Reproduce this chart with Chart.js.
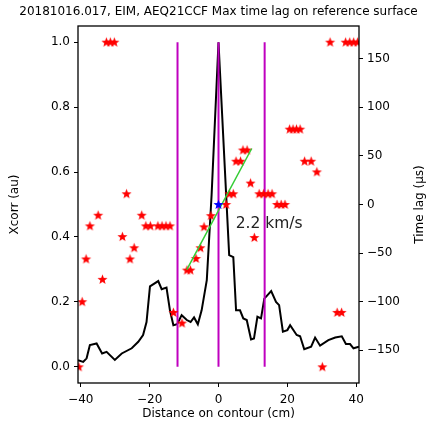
<!DOCTYPE html>
<html>
<head>
<meta charset="utf-8">
<script src="https://cdn.jsdelivr.net/npm/chart.js@4.4.0/dist/chart.umd.min.js"></script>
<style>
  html, body { margin: 0; padding: 0; background: #fff; }
</style>
</head>
<body>
<canvas id="lagChart" width="427" height="425"></canvas>
<script>
const titleText = "20181016.017, EIM, AEQ21CCF Max time lag on reference surface";

// cross-correlation curve (left axis)
const xcorrDist = [-40.8, -39.3, -38.3, -37.35, -35.4, -33.8, -32.5, -30.1, -28.1, -25.2, -23.3, -21.9, -20.9, -19.9,
  -17.5, -16.5, -15.1, -14.1, -13.1, -12.0, -10.7, -9.2, -8.1, -7.1, -6.0, -4.9, -3.4, -2.0, 0, 3.1, 4.3, 5.1, 6.25,
  7.2, 8.2, 9.45, 10.3, 11.3, 12.35, 13.3, 15.3, 16.7, 17.6, 18.7, 20.0, 20.8, 22.7, 23.7, 24.9, 26.9, 28.05, 29.5,
  31.9, 33.9, 35.8, 37.0, 38.2, 39.2, 40.8];
const xcorrVal = [0.020, 0.015, 0.026, 0.067, 0.072, 0.041, 0.046, 0.021, 0.041, 0.057, 0.077, 0.098, 0.138, 0.248,
  0.264, 0.239, 0.244, 0.174, 0.128, 0.131, 0.159, 0.144, 0.138, 0.152, 0.131, 0.174, 0.267, 0.53, 1.0, 0.344, 0.338,
  0.174, 0.174, 0.149, 0.144, 0.084, 0.087, 0.154, 0.149, 0.210, 0.233, 0.200, 0.190, 0.108, 0.113, 0.128, 0.098,
  0.094, 0.054, 0.062, 0.090, 0.065, 0.082, 0.090, 0.094, 0.070, 0.070, 0.057, 0.062];

// time lag of max xcorr (right axis, us)
const lagDist = [-40.55, -39.6, -38.45, -37.35, -34.95, -33.7, -32.55, -31.4, -30.25, -27.9, -26.7, -25.7, -24.5,
  -22.3, -21.1, -19.8, -17.6, -16.4, -15.25, -14.1, -13.1, -10.6, -9.15, -8.15, -6.55, -5.25, -4.2, -2.2, 2.2, 3.15,
  4.3, 5.1, 6.4, 7.1, 8.3, 9.3, 10.4, 11.8, 13.1, 14.4, 15.55, 17.0, 18.2, 19.3, 20.65, 21.65, 22.65, 23.7, 25.0,
  26.9, 28.55, 30.15, 32.4, 34.45, 35.75, 36.9, 38.1, 39.25, 40.4];
const lagVal = [-167, -100, -56, -22, -11, -77, 167, 167, 167, -33, 11, -56, -44.5, -11, -22, -22, -22, -22, -22,
  -22, -111, -122, -67.5, -67.5, -55.5, -44.5, -23, -11.5, 0, 11, 11, 44.5, 44.5, 56, 56, 22, -34, 11, 11, 11, 11,
  0, 0, 0, 77.5, 77.5, 77.5, 77.5, 44.5, 44.5, 33.5, -167, 167, -111, -111, 167, 167, 167, 167];

const markerLines = [-11.9, 0, 13.4];
const fitDist = [-9.2, 9.65];
const fitLag = [-67, 57.6];
const refDist = 0;
const refLag = 0;
const speedLabel = "2.2 km/s";
const speedPos = [5.0, 0.427];

const xTicks = [-40, -20, 0, 20, 40];
const corrTicks = [0, 0.2, 0.4, 0.6, 0.8, 1.0];
const lagTicks = [-150, -100, -50, 0, 50, 100, 150];

const FONT = "DejaVu Sans";
const minus = v => (v < 0 ? "\u2212" + Math.abs(v) : String(v));

function makeStar(color, r) {
  const c = document.createElement("canvas");
  const s = Math.ceil(r * 2 + 2);
  c.width = s; c.height = s;
  const g = c.getContext("2d");
  g.fillStyle = color;
  g.beginPath();
  for (let i = 0; i < 10; i++) {
    const a = -Math.PI / 2 + i * Math.PI / 5;
    const rad = i % 2 ? r * 0.42 : r;
    const px = s / 2 + rad * Math.cos(a), py = s / 2 + 0.3 + rad * Math.sin(a);
    i ? g.lineTo(px, py) : g.moveTo(px, py);
  }
  g.closePath();
  g.fill();
  return c;
}
const redStar = makeStar("#ff0000", 5.3);
const blueStar = makeStar("#0000ff", 5.3);

const datasets = [
  {
    data: xcorrDist.map((d, i) => ({ x: d, y: xcorrVal[i] })),
    yAxisID: "y", showLine: true, borderColor: "#000", borderWidth: 2, pointRadius: 0, order: 6
  },
  ...markerLines.map(d => ({
    data: [{ x: d, y: 0 }, { x: d, y: 1 }],
    yAxisID: "y", showLine: true, borderColor: "#bf00bf", borderWidth: 2, pointRadius: 0, order: 5
  })),
  {
    data: lagDist.map((d, i) => ({ x: d, y: lagVal[i] })),
    yAxisID: "y2", showLine: false, pointStyle: redStar, pointRadius: 5, order: 3
  },
  {
    data: fitDist.map((d, i) => ({ x: d, y: fitLag[i] })),
    yAxisID: "y2", showLine: true, borderColor: "#33cc33", borderWidth: 1.5, pointRadius: 0, order: 2
  },
  {
    data: [{ x: refDist, y: refLag }],
    yAxisID: "y2", showLine: false, pointStyle: blueStar, pointRadius: 5, order: 1
  }
];

const tickGrid = { display: true, drawOnChartArea: false, drawTicks: true, tickLength: 4, tickWidth: 1, tickColor: "#000" };
const tickFont = { family: FONT, size: 12 };

const decorations = {
  id: "decorations",
  afterDatasetsDraw(chart) {
    const { ctx, chartArea: a, scales } = chart;
    ctx.save();
    ctx.fillStyle = "#222";
    ctx.font = "15.5px '" + FONT + "'";
    ctx.textAlign = "left";
    ctx.textBaseline = "alphabetic";
    ctx.fillText(speedLabel, scales.x.getPixelForValue(speedPos[0]), scales.y.getPixelForValue(speedPos[1]));
    ctx.strokeStyle = "#000";
    ctx.lineWidth = 1.3;
    ctx.strokeRect(a.left, a.top, a.right - a.left, a.bottom - a.top);
    ctx.restore();
  },
  afterDraw(chart) {
    const { ctx, chartArea: a } = chart;
    const cx = (a.left + a.right) / 2, cy = (a.top + a.bottom) / 2;
    ctx.save();
    ctx.fillStyle = "#000";
    ctx.font = "12px '" + FONT + "'";
    ctx.textAlign = "center";
    ctx.textBaseline = "middle";
    ctx.fillText(titleText, cx, 12);
    ctx.fillText("Distance on contour (cm)", cx, 414);
    ctx.translate(15, cy);
    ctx.rotate(-Math.PI / 2);
    ctx.fillText("Xcorr (au)", 0, 0);
    ctx.restore();
    ctx.save();
    ctx.fillStyle = "#000";
    ctx.font = "12px '" + FONT + "'";
    ctx.textAlign = "center";
    ctx.textBaseline = "middle";
    ctx.translate(420, cy);
    ctx.rotate(-Math.PI / 2);
    ctx.fillText("Time lag (\u03bcs)", 0, 0);
    ctx.restore();
  }
};

new Chart(document.getElementById("lagChart"), {
  type: "scatter",
  data: { datasets },
  options: {
    responsive: false,
    animation: false,
    devicePixelRatio: 1,
    layout: { padding: { top: 26, left: 0, right: 0, bottom: 0 } },
    plugins: { legend: { display: false }, tooltip: { enabled: false } },
    scales: {
      x: {
        type: "linear", position: "bottom", min: -40.8, max: 40.8,
        afterBuildTicks: s => { s.ticks = xTicks.map(v => ({ value: v })); },
        afterFit: s => { s.height = 42; },
        grid: tickGrid, border: { display: false },
        ticks: { font: tickFont, color: "#000", padding: 6, maxRotation: 0, callback: v => minus(v) }
      },
      y: {
        type: "linear", position: "left", min: -0.05, max: 1.05,
        afterBuildTicks: s => { s.ticks = corrTicks.map(v => ({ value: v })); },
        afterFit: s => { s.width = 78; },
        grid: tickGrid, border: { display: false },
        ticks: { font: tickFont, color: "#000", padding: 4, callback: v => v.toFixed(1) }
      },
      y2: {
        type: "linear", position: "right", min: -183.6, max: 183.6,
        afterBuildTicks: s => { s.ticks = lagTicks.map(v => ({ value: v })); },
        afterFit: s => { s.width = 68; },
        grid: tickGrid, border: { display: false },
        ticks: { font: tickFont, color: "#000", padding: 4, callback: v => minus(v) }
      }
    }
  },
  plugins: [decorations]
});
</script>
</body>
</html>
